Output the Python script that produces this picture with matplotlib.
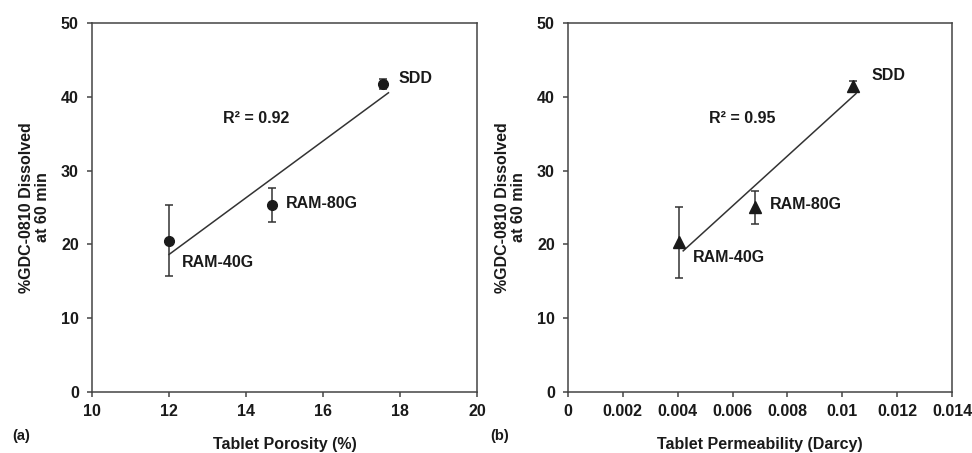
import numpy as np
import matplotlib
matplotlib.use("Agg")
import matplotlib.pyplot as plt

plt.rcParams['font.family'] = ['Liberation Sans', 'DejaVu Sans']
plt.rcParams['font.weight'] = 'bold'

labels = ["RAM-40G", "RAM-80G", "SDD"]
porosity = [12.0, 14.67, 17.55]
permeability = [0.00405, 0.00682, 0.0104]
diss_a = [20.5, 25.3, 41.7]
err_a = [4.8, 2.3, 0.7]
diss_b = [20.3, 25.0, 41.4]
err_b = [4.8, 2.3, 0.8]
r2_a = "R² = 0.92"
r2_b = "R² = 0.95"

txt_a = [(12.34, 17.5), (15.04, 25.5), (17.95, 42.5)]
txt_b = [(0.00456, 18.2), (0.00737, 25.4), (0.01105, 42.9)]

C = '#1a1a1a'
FS = 11.5
fig = plt.figure(figsize=(9.72, 4.53), dpi=100)
W, H = 972, 453
axa = fig.add_axes([92/W, 1-392/H, (477-92)/W, (392-23)/H])
axb = fig.add_axes([568/W, 1-392/H, (952-568)/W, (392-23)/H])

def style(ax):
    for s in ax.spines.values():
        s.set_color('#444444'); s.set_linewidth(1.1)
    ax.tick_params(direction='out', length=3.5, width=1.1, colors='#444444',
                   labelsize=FS, labelcolor=C)
    ax.tick_params(axis='y', pad=6)
    ax.tick_params(axis='x', pad=5)
    for lab in ax.get_xticklabels() + ax.get_yticklabels():
        lab.set_fontweight('bold')
    ax.set_ylim(0, 50)
    ax.set_yticks([0, 10, 20, 30, 40, 50])
    ax.set_ylabel("%GDC-0810 Dissolved\nat 60 min", fontsize=FS,
                  fontweight='bold', color=C, labelpad=8, linespacing=1.05)

# panel a
x = np.array(porosity); y = np.array(diss_a)
p = np.polyfit(x, y, 1)
xl = np.array([x.min(), x.max() + 0.15])
axa.plot(xl, np.polyval(p, xl), color='#333333', lw=1.1)
axa.errorbar(x, y, yerr=err_a, fmt='o', color=C, ms=7, ecolor='#333333',
             elinewidth=1.1, capsize=3, capthick=1.1)
for lab, (tx, ty) in zip(labels, txt_a):
    axa.text(tx, ty, lab, fontsize=FS, fontweight='bold', va='center', color=C)
axa.text(13.4, 37.1, r2_a, fontsize=FS, fontweight='bold', va='center', color=C)
axa.set_xlim(10, 20)
axa.set_xticks([10, 12, 14, 16, 18, 20])
style(axa)
axa.set_xlabel("Tablet Porosity (%)", fontsize=FS, fontweight='bold', color=C, labelpad=13)
fig.text(12/W, 1-436/H, "(a)", fontsize=10.5, fontweight='bold', color=C, va='center')

# panel b
x = np.array(permeability); y = np.array(diss_b)
p = np.polyfit(x, y, 1)
xl = np.array([x.min() + 0.00015, x.max() + 0.0001])
axb.plot(xl, np.polyval(p, xl), color='#333333', lw=1.1)
axb.errorbar(x, y, yerr=err_b, fmt='^', color=C, ms=8, ecolor='#333333',
             elinewidth=1.1, capsize=3, capthick=1.1)
for lab, (tx, ty) in zip(labels, txt_b):
    axb.text(tx, ty, lab, fontsize=FS, fontweight='bold', va='center', color=C)
axb.text(0.00514, 37.1, r2_b, fontsize=FS, fontweight='bold', va='center', color=C)
axb.set_xlim(0, 0.014)
bt = [0, 0.002, 0.004, 0.006, 0.008, 0.01, 0.012, 0.014]
axb.set_xticks(bt)
axb.set_xticklabels(["0", "0.002", "0.004", "0.006", "0.008", "0.01", "0.012", "0.014"])
style(axb)
axb.set_xlabel("Tablet Permeability (Darcy)", fontsize=FS, fontweight='bold', color=C, labelpad=13)
fig.text(490/W, 1-436/H, "(b)", fontsize=10.5, fontweight='bold', color=C, va='center')

fig.savefig("out.png", dpi=100)
